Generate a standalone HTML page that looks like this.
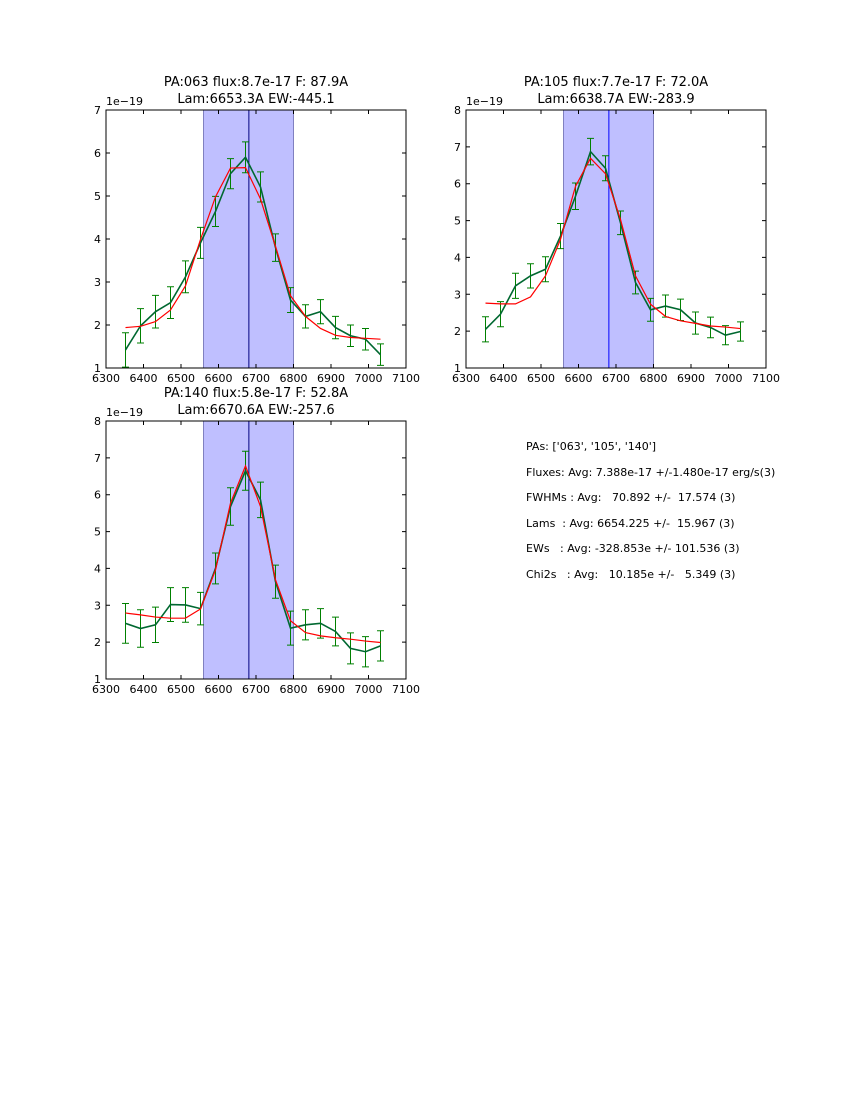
<!DOCTYPE html>
<html><head><meta charset="utf-8"><style>
body{margin:0;background:#fff;}
#wrap{position:relative;width:850px;height:1100px;overflow:hidden;font-family:"DejaVu Sans","Liberation Sans",sans-serif;}
svg text{font-family:"DejaVu Sans","Liberation Sans",sans-serif;}
#stats{position:absolute;left:526px;top:434px;font-size:11px;line-height:25.6px;white-space:pre;color:#000;}
</style></head><body>
<div id="wrap">
<svg id="svg" width="850" height="1100"></svg>
<div id="stats"><div>PAs: ['063', '105', '140']</div><div>Fluxes: Avg: 7.388e-17 +/-1.480e-17 erg/s(3)</div><div>FWHMs : Avg:   70.892 +/-  17.574 (3)</div><div>Lams  : Avg: 6654.225 +/-  15.967 (3)</div><div>EWs   : Avg: -328.853e +/- 101.536 (3)</div><div>Chi2s   : Avg:   10.185e +/-   5.349 (3)</div></div>
</div>
<script>
const wavelengths=[6352,6392,6432,6472,6512,6552,6592,6632,6672,6712,6752,6792,6832,6872,6912,6952,6992,7032];
const xTicks=[6300,6400,6500,6600,6700,6800,6900,7000,7100];
const p1Flux=[1.42,1.98,2.31,2.52,3.12,3.91,4.64,5.52,5.90,5.21,3.80,2.58,2.20,2.31,1.94,1.75,1.67,1.31];
const p1Err=[0.4,0.4,0.38,0.37,0.37,0.36,0.35,0.35,0.36,0.35,0.32,0.29,0.27,0.28,0.26,0.25,0.25,0.25];
const p1Fit=[1.94,1.97,2.08,2.35,2.91,3.99,4.98,5.65,5.66,4.93,3.83,2.68,2.20,1.92,1.76,1.71,1.69,1.67];
const p2Flux=[2.05,2.46,3.23,3.50,3.68,4.58,5.66,6.87,6.42,4.94,3.32,2.58,2.68,2.58,2.22,2.10,1.89,1.99];
const p2Err=[0.34,0.34,0.34,0.33,0.34,0.34,0.36,0.36,0.34,0.32,0.31,0.31,0.30,0.29,0.30,0.28,0.26,0.26];
const p2Fit=[2.76,2.74,2.74,2.93,3.50,4.49,5.93,6.69,6.27,5.03,3.50,2.73,2.40,2.28,2.21,2.14,2.11,2.07];
const p3Flux=[2.51,2.37,2.47,3.02,3.01,2.91,4.00,5.68,6.65,5.86,3.64,2.38,2.47,2.51,2.29,1.83,1.74,1.90];
const p3Err=[0.54,0.51,0.48,0.46,0.47,0.44,0.42,0.51,0.53,0.48,0.45,0.46,0.41,0.40,0.39,0.42,0.41,0.41];
const p3Fit=[2.79,2.74,2.68,2.65,2.65,2.90,3.96,5.77,6.78,5.68,3.69,2.58,2.26,2.17,2.12,2.08,2.03,1.99];
const spanRange=[6560,6800];
const lineCenter=6681;
const panels=[
 {name:'pa063',x:106,y:110,ymax:7,t1:'PA:063 flux:8.7e-17 F: 87.9A',t2:'Lam:6653.3A EW:-445.1',flux:p1Flux,err:p1Err,fit:p1Fit,vc:'#000080'},
 {name:'pa105',x:466,y:110,ymax:8,t1:'PA:105 flux:7.7e-17 F: 72.0A',t2:'Lam:6638.7A EW:-283.9',flux:p2Flux,err:p2Err,fit:p2Fit,vc:'#0000ff'},
 {name:'pa140',x:106,y:421,ymax:8,t1:'PA:140 flux:5.8e-17 F: 52.8A',t2:'Lam:6670.6A EW:-257.6',flux:p3Flux,err:p3Err,fit:p3Fit,vc:'#000080'}
];
const NS='http://www.w3.org/2000/svg';
const svg=document.getElementById('svg');
function mk(tag,attrs,parent){const e=document.createElementNS(NS,tag);for(const k in attrs)e.setAttribute(k,attrs[k]);(parent||svg).appendChild(e);return e;}
panels.forEach(p=>{
 const W=300,H=258,ymin=1;
 const g=mk('g',{});
 
 
 const sx=v=>p.x+(v-6300)/800*W;
 const sy=v=>p.y+H-(v-ymin)/(p.ymax-ymin)*H;
 const span=mk('rect',{x:sx(spanRange[0]),y:p.y,width:sx(spanRange[1])-sx(spanRange[0]),height:H,fill:'#bfbfff',stroke:'#8080c0','stroke-width':1},g);
 
 
 const vl=mk('line',{x1:sx(lineCenter),x2:sx(lineCenter),y1:p.y,y2:p.y+H,stroke:p.vc,'stroke-width':1},g);
 
 
 // error bars
 wavelengths.forEach((w,i)=>{
  const x=sx(w),y1=sy(p.flux[i]-p.err[i]),y2=sy(p.flux[i]+p.err[i]);
  const eb=mk('path',{d:`M${x},${y1}V${y2}M${x-3.5},${y1}H${x+3.5}M${x-3.5},${y2}H${x+3.5}`,stroke:'#008000','stroke-width':1,fill:'none'},g);
  
  
 });
 const dl=mk('polyline',{points:wavelengths.map((w,i)=>sx(w)+','+sy(p.flux[i])).join(' '),fill:'none',stroke:'#006830','stroke-width':1.6},g);
 
 
 const fl=mk('polyline',{points:wavelengths.map((w,i)=>sx(w)+','+sy(p.fit[i])).join(' '),fill:'none',stroke:'#ff0000','stroke-width':1.2},g);
 
 
 const fr=mk('rect',{x:p.x,y:p.y,width:W,height:H,fill:'none',stroke:'#000','stroke-width':1},g);
 
 
 xTicks.forEach(t=>{
  const x=sx(t);
  mk('path',{d:`M${x},${p.y+H}v-4M${x},${p.y}v4`,stroke:'#000','stroke-width':1},g);
  const tx=mk('text',{x:x,y:p.y+H+14,'font-size':11,'text-anchor':'middle'},g);
  tx.textContent=t;
  
  
 });
 for(let v=ymin;v<=p.ymax;v++){
  const y=sy(v);
  mk('path',{d:`M${p.x},${y}h4M${p.x+W},${y}h-4`,stroke:'#000','stroke-width':1},g);
  const ty=mk('text',{x:p.x-5,y:y+4,'font-size':11,'text-anchor':'end'},g);
  ty.textContent=v;
  
  
 }
 const off=mk('text',{x:p.x,y:p.y-5,'font-size':11},g);
 off.textContent='1e\u221219';
 
 
 const t1=mk('text',{x:p.x+W/2,y:p.y-24,'font-size':13,'text-anchor':'middle'},g);
 t1.textContent=p.t1;
 
 
 const t2=mk('text',{x:p.x+W/2,y:p.y-7,'font-size':13,'text-anchor':'middle'},g);
 t2.textContent=p.t2;
 
 
});
</script>
</body></html>
